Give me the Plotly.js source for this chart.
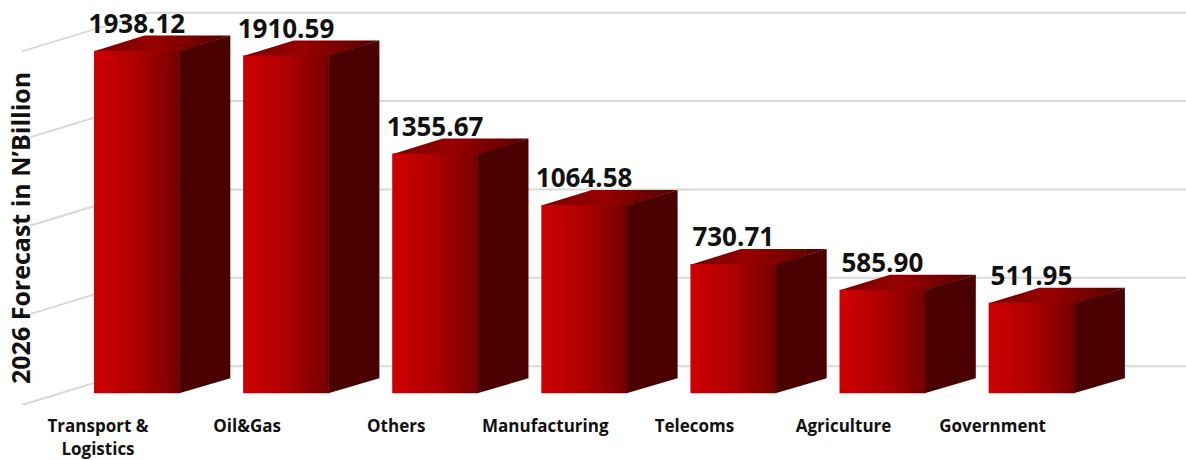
<!DOCTYPE html>
<html>
<head>
<meta charset="utf-8">
<script src="https://cdn.plot.ly/plotly-3.0.1.min.js"></script>
<style>html,body{margin:0;padding:0;background:#fff}#chart{width:1186px;height:460px}</style>
</head>
<body>
<div id="chart"></div>
<script>
const categories = ["Transport &<br>Logistics", "Oil&Gas", "Others", "Manufacturing", "Telecoms", "Agriculture", "Government"];
const forecast = [1938.12, 1910.59, 1355.67, 1064.58, 730.71, 585.90, 511.95];
const gridValues = [0, 500, 1000, 1500, 2000];
const gridStart = [-0.51, -0.457, -0.457, -0.457, -0.51];

// Oblique projection constants, in axis units
const barLeft = -0.0268, barWidth = 0.575;
const depthX = 0.339, depthY = 85;     // depth of a bar
const wallX = 0.342, wallY = 153;      // where the back wall sits
const floorX = -0.51, floorY = -66;    // front edge of the floor
const xEnd = 7.297;
const fontFamily = "'Open Sans', sans-serif";

const traces = [];

// Wall gridlines, each with its receding segment on the left
gridValues.forEach((g, k) => {
  const slope = (wallY - floorY) / (wallX - floorX);
  const startY = g + floorY + (gridStart[k] - floorX) * slope;
  traces.push({
    x: [gridStart[k], wallX, xEnd],
    y: [startY, g + wallY, g + wallY],
    mode: "lines", line: {color: "#d9d9d9", width: 2}, hoverinfo: "skip"
  });
});

forecast.forEach((v, i) => {
  const L = i + barLeft, R = L + barWidth;
  // Side face runs slightly under the front face so no seam shows
  traces.push({
    x: [R - 0.004, R + depthX, R + depthX, R - 0.004, R - 0.004],
    y: [0, depthY, v + depthY, v, 0],
    mode: "lines", fill: "toself", fillcolor: "#4a0000", line: {width: 0}, hoverinfo: "skip"
  });
  // Top face
  traces.push({
    x: [L, L + depthX, R + depthX, R, L],
    y: [v - 3, v + depthY, v + depthY, v - 3, v - 3],
    mode: "lines", fill: "toself", line: {width: 0}, hoverinfo: "skip",
    fillgradient: {type: "horizontal", colorscale: [[0, "#780000"], [0.45, "#980000"], [1, "#520000"]]}
  });
  // Front face
  traces.push({
    x: [L, R, R, L, L],
    y: [0, 0, v, v, 0],
    mode: "lines", fill: "toself", line: {width: 0}, hoverinfo: "skip",
    fillgradient: {type: "horizontal", colorscale: [[0, "#cf0000"], [0.5, "#ae0000"], [1, "#740000"]]}
  });
});

// Value labels above each bar
traces.push({
  x: forecast.map((v, i) => i + barLeft + barWidth / 2),
  y: forecast.map(v => v + 64),
  text: forecast.map(v => v.toFixed(2)),
  mode: "text", textposition: "top center",
  textfont: {family: fontFamily, size: 26, color: "#111", weight: 700},
  hoverinfo: "skip", cliponaxis: false
});

const layout = {
  width: 1186, height: 460, showlegend: false,
  paper_bgcolor: "#fff", plot_bgcolor: "rgba(0,0,0,0)",
  margin: {l: 0, r: 0, t: 0, b: 55},
  xaxis: {
    range: [-0.6573, xEnd],
    tickmode: "array", tickvals: categories.map((c, i) => i), ticktext: categories,
    tickfont: {family: fontFamily, size: 17, color: "#111", weight: 700},
    showgrid: false, zeroline: false, showline: false, ticks: "outside", ticklen: 6, tickcolor: "rgba(0,0,0,0)"
  },
  yaxis: {
    range: [-66.2, 2224.5],
    showgrid: false, zeroline: false, showline: false, showticklabels: false, ticks: ""
  },
  annotations: [{
    text: "2026 Forecast in N’Billion", textangle: -90,
    xref: "paper", yref: "paper", x: 20 / 1186, y: 1 - 228 / 405,
    xanchor: "center", yanchor: "middle", showarrow: false,
    bgcolor: "rgba(0,0,0,0)",
    font: {family: fontFamily, size: 25, color: "#111", weight: 700}
  }]
};

Plotly.newPlot("chart", traces, layout, {displayModeBar: false, staticPlot: true});
</script>
</body>
</html>
